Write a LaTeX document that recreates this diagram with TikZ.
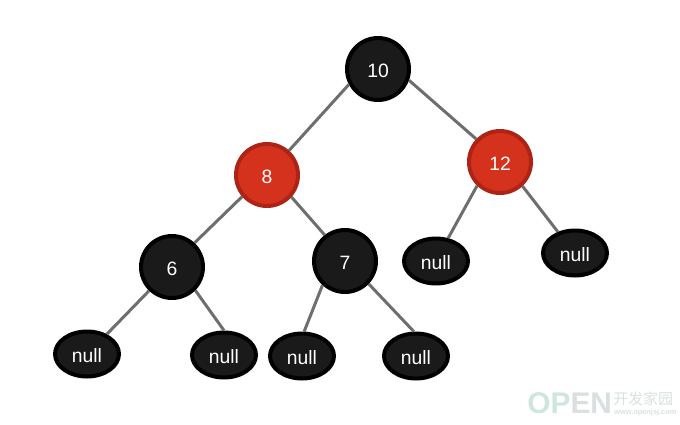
\documentclass[tikz,border=0pt]{standalone}
\usepackage{fontspec}
\setmainfont{Liberation Sans}
\newfontfamily\cjk{Noto Sans CJK SC}
\usetikzlibrary{shapes.geometric}
\definecolor{nodeblack}{HTML}{1A1A1A}
\definecolor{nodered}{HTML}{D5321D}
\definecolor{nodeedge}{HTML}{AD2417}
\definecolor{linkgray}{HTML}{6E6E6E}
\definecolor{markgreen}{HTML}{CFE6DE}
\definecolor{markgray}{HTML}{DADFDF}
\tikzstyle{treenode} = [line width=.08cm, text=white, text height=.34cm, text depth=0pt, font=\fontsize{11}{13}\selectfont]
\tikzstyle{blacknode} = [treenode, circle, minimum size=1.24cm, draw=black, fill=nodeblack]
\tikzstyle{rednode} = [treenode, circle, minimum size=1.24cm, draw=nodeedge, fill=nodered]
\tikzstyle{nullnode} = [treenode, ellipse, minimum width=1.28cm, minimum height=.9cm, inner sep=0pt, draw=black, fill=nodeblack]
\tikzstyle{link} = [line width=.06cm, draw=linkgray]
\tikzstyle{stamp} = [inner sep=0pt, anchor=west]
\begin{document}
\begin{tikzpicture}[x=.02cm, y=-.02cm]%
	\useasboundingbox (0,0) rectangle (680,424);%
	\node [blacknode] (n10) at (378,69) {10};%
	\node [rednode] (n8) at (267,175) {8};%
	\node [rednode] (n12) at (500,162) {12};%
	\node [blacknode] (n6) at (172,267) {6};%
	\node [blacknode] (n7) at (345,261) {7};%
	\node [nullnode] (a) at (87,354) {null};%
	\node [nullnode] (b) at (224,355) {null};%
	\node [nullnode] (c) at (302,356) {null};%
	\node [nullnode] (d) at (416,356) {null};%
	\node [nullnode] (e) at (436,261) {null};%
	\node [nullnode] (f) at (575,253) {null};%
	\foreach \from/\to in {n10.208/n8.48, n10.340/n12.136, n8.221/n6.47, n8.318/n7.128, n6.226/a.45, n6.315/b.90, n7.227/c.85, n7.316/d.95, n12.226/e.62, n12.313/f.129}%
		\draw [link] (\from) -- (\to);%
	\node [stamp, font=\bfseries\fontsize{17}{18}\selectfont] (open) at (527,403) {\textcolor{markgreen}{OP}\textcolor{markgray}{EN}};%
	\node [stamp, text=markgray, font=\cjk\fontsize{8.5}{10}\selectfont] (zh) at (613,398.5) {开发家园};%
	\node [stamp, text=markgray, font=\bfseries\fontsize{4.2}{5}\selectfont] (url) at (614,413) {www.openjsj.com};%
\end{tikzpicture}
\end{document}
